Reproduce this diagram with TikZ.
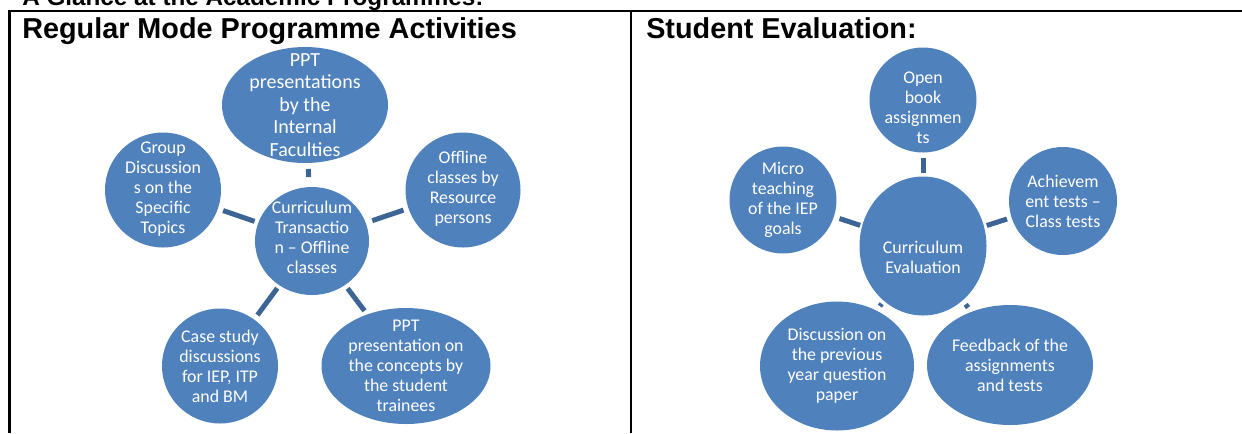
\documentclass[tikz,border=0pt]{standalone}
\usepackage{fontspec}
\setmainfont{Liberation Sans}
\newfontfamily\bubfont{Carlito}
\usetikzlibrary{shapes.geometric}
\definecolor{bubblue}{HTML}{4F81BD}
\definecolor{connblue}{HTML}{3C6494}
\begin{document}
\begin{tikzpicture}[x=0.75pt,y=-0.75pt,
  bubble/.style={ellipse, fill=bubblue, draw=none, inner sep=0pt, outer sep=0pt},
  bubtext/.style={text=white, align=center, inner sep=0pt, font=\bubfont\fontsize{13.4}{15}\selectfont},
  bigtext/.style={text=white, align=center, inner sep=0pt, font=\bubfont\fontsize{15}{16.9}\selectfont},
  conn/.style={draw=connblue, line width=3.75pt},
  tableline/.style={line width=1.9pt, black},
  heading/.style={anchor=base west, inner sep=0pt, font=\bfseries\fontsize{21.6}{25}\selectfont}]
\useasboundingbox (0,0) rectangle (1242,433);

% table
\draw[tableline] (9.5,10.8) -- (1242,10.8);
\draw[tableline] (9.5,10) -- (9.5,433);
\draw[tableline] (631,10) -- (631,433);

% headings
\node[anchor=base west, inner sep=0pt, font=\bfseries\fontsize{18.2}{22}\selectfont] (title) at (22,5) {A Glance at the Academic Programmes:};
\node[heading] (h1) at (22,38) {Regular Mode Programme Activities};
\node[heading] (h2) at (646,38) {Student Evaluation:};

% left diagram
\node[bubble, minimum width=85.5pt, minimum height=81pt,
  label={[bubtext,yshift=3pt]center:{Curriculum\\Transactio\\n – Offline\\classes}}] (c1) at (312,241) {};
\node[bubble, minimum width=124.5pt, minimum height=87pt,
  label={[bigtext]center:{PPT\\presentations\\by the\\Internal\\Faculties}}] (t1) at (305,105) {};
\node[bubble, minimum width=87pt, minimum height=86.25pt,
  label={[bubtext,yshift=1pt]center:{Group\\Discussion\\s on the\\Specific\\Topics}}] (g1) at (163,190) {};
\node[bubble, minimum width=86.25pt, minimum height=86.25pt,
  label={[bubtext,yshift=1pt]center:{Offline\\classes by\\Resource\\persons}}] (o1) at (463,190) {};
\node[bubble, minimum width=87pt, minimum height=86.25pt,
  label={[bubtext]center:{Case study\\discussions\\for IEP, ITP\\and BM}}] (s1) at (220,366) {};
\node[bubble, minimum width=126.75pt, minimum height=87pt,
  label={[bubtext]center:{PPT\\presentation on\\the concepts by\\the student\\trainees}}] (p1) at (406,366) {};

\draw[conn, shorten <=7.5pt, shorten >=4.5pt] (c1) -- (t1);
\draw[conn, shorten <=3pt, shorten >=4.2pt] (c1) -- (g1);
\draw[conn, shorten <=5.2pt, shorten >=4pt] (c1) -- (o1);
\draw[conn, shorten <=2.7pt, shorten >=4.2pt] (c1) -- (s1);
\draw[conn, shorten <=3.2pt, shorten >=3.4pt] (c1) -- (p1);

% right diagram
\node[bubble, minimum width=95.25pt, minimum height=104.25pt,
  label={[bubtext,yshift=-8.25pt]center:{Curriculum\\Evaluation}}] (c2) at (923,246) {};
\node[bubble, minimum width=80.25pt, minimum height=78.75pt,
  label={[bubtext,yshift=-6pt]center:{Open\\book\\assignmen\\ts}}] (b2) at (923,100) {};
\node[bubble, minimum width=80.25pt, minimum height=80.25pt,
  label={[bubtext]center:{Micro\\teaching\\of the IEP\\goals}}] (m2) at (783,200) {};
\node[bubble, minimum width=81pt, minimum height=81pt,
  label={[bubtext]center:{Achievem\\ent tests –\\Class tests}}] (a2) at (1063,201) {};
\node[bubble, minimum width=115.5pt, minimum height=96.75pt,
  label={[bubtext]center:{Discussion on\\the previous\\year question\\paper}}] (d2) at (837,366) {};
\node[bubble, minimum width=124.5pt, minimum height=90pt,
  label={[bubtext]center:{Feedback of the\\assignments\\and tests}}] (f2) at (1010,365) {};

\draw[conn, shorten <=2.6pt, shorten >=4.1pt] (c2) -- (b2);
\draw[conn, shorten <=1.6pt, shorten >=4.5pt] (c2) -- (m2);
\draw[conn, shorten <=2.25pt, shorten >=3.6pt] (c2) -- (a2);
\draw[conn, shorten <=2.8pt, shorten >=4.2pt] (c2) -- (d2);
\draw[conn, shorten <=3.8pt, shorten >=4pt] (c2) -- (f2);
\end{tikzpicture}
\end{document}
